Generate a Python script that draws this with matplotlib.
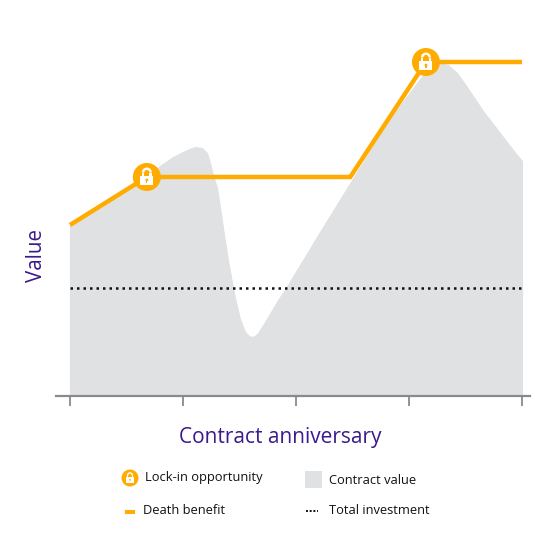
import matplotlib
matplotlib.use("Agg")
import matplotlib.pyplot as plt
from matplotlib.offsetbox import DrawingArea, AnnotationBbox
from matplotlib.patches import Circle, Rectangle, Arc

plt.rcParams['font.family'] = ['Open Sans', 'DejaVu Sans']

# ---- data ----
contract_x = [0.000, 0.177, 0.354, 0.531, 0.681, 0.796, 0.912, 1.035, 1.106,
              1.168, 1.212, 1.239, 1.265, 1.301, 1.327, 1.363, 1.398, 1.434,
              1.460, 1.504, 1.549, 1.584, 1.611, 1.637, 1.664, 1.726, 1.841,
              1.912, 2.212, 2.496, 2.832, 3.097, 3.186, 3.239, 3.274, 3.345,
              3.425, 3.513, 3.655, 3.805, 3.920, 4.000]
contract_y = [171, 183, 196, 208, 219, 230, 239, 246, 249,
              248, 243, 233, 221, 208, 189, 161, 136, 113,
              98, 77, 64, 60, 59, 60, 63, 74, 96,
              108, 164, 216, 277, 317, 328, 332, 333, 331,
              323, 309, 285, 263, 246, 235]
death_x = [0, 0.68, 2.48, 3.15, 4.0]
death_y = [171, 219, 219, 334, 334]
lock_x = [0.68, 3.15]
lock_y = [219, 334]
total_investment = 108
tick_positions = [0, 1, 2, 3, 4]

ORANGE = '#FFAB00'
GRAY = '#E0E1E3'
PURPLE = '#3A1A8C'
AXIS = '#8A8A8A'

fig = plt.figure(figsize=(5.6, 5.6), dpi=100)
ax = fig.add_axes([56/560, 1-396/560, 474/560, 356/560])
ax.set_xlim(-14/113, 4 + 8/113)
ax.set_ylim(0, 356)

ax.fill_between(contract_x, contract_y, 0, color=GRAY, linewidth=0.8,
                edgecolor=GRAY, zorder=1)
ax.plot([0, 4], [total_investment]*2, color='#111111', linewidth=1.8,
        linestyle=(0, (1, 1.6)), zorder=2)
ax.plot(death_x, death_y, color=ORANGE, linewidth=3.2, solid_capstyle='butt',
        solid_joinstyle='miter', zorder=3)

PX = 0.72  # points per pixel


def lock_icon(r_px):
    s = r_px / 14.0
    size = 2 * r_px * PX
    da = DrawingArea(size, size, 0, 0)
    c = size / 2
    da.add_artist(Circle((c, c), r_px * PX, fc=ORANGE, ec='none'))
    bw, bh = 13 * s * PX, 9 * s * PX
    da.add_artist(Rectangle((c - bw/2, c - 8*s*PX), bw, bh, fc='white', ec='none'))
    sr = 3.8 * s * PX
    lw = 2.4 * s * PX
    da.add_artist(Arc((c, c + 4.5*s*PX), 2*sr, 2*sr, theta1=0, theta2=180,
                      color='white', lw=lw))
    da.add_artist(Rectangle((c - sr - 1.2*s*PX, c), 2.4*s*PX, 4.5*s*PX,
                            fc='white', ec='none'))
    da.add_artist(Rectangle((c + sr - 1.2*s*PX, c), 2.4*s*PX, 4.5*s*PX,
                            fc='white', ec='none'))
    da.add_artist(Circle((c, c - 3*s*PX), 1.4*s*PX, fc=ORANGE, ec='none'))
    da.add_artist(Rectangle((c - 0.6*s*PX, c - 6*s*PX), 1.2*s*PX, 3*s*PX,
                            fc=ORANGE, ec='none'))
    return da


for lx, ly in zip(lock_x, lock_y):
    ab = AnnotationBbox(lock_icon(14), (lx, ly), frameon=False, pad=0,
                        box_alignment=(0.5, 0.5), zorder=5)
    ax.add_artist(ab)

for sp in ['top', 'right', 'left']:
    ax.spines[sp].set_visible(False)
ax.spines['bottom'].set_color(AXIS)
ax.spines['bottom'].set_linewidth(1.6)
ax.set_yticks([])
ax.set_xticks(tick_positions)
ax.set_xticklabels([])
ax.tick_params(axis='x', direction='out', length=7.5, width=1.3, color=AXIS)

fig.text(280/560, 1-437/560, 'Contract anniversary', color=PURPLE,
         fontsize=15, ha='center', va='center')
fig.text(37/560, 1-256/560, 'Value', color=PURPLE, fontsize=14.8,
         rotation=90, ha='center', va='center')

# ---- legend ----
lab = fig.add_axes([0, 0, 1, 1])
lab.set_xlim(0, 560)
lab.set_ylim(560, 0)
lab.axis('off')
ab = AnnotationBbox(lock_icon(8.5), (130, 478), frameon=False, pad=0,
                    box_alignment=(0.5, 0.5))
lab.add_artist(ab)
lab.text(145, 478, 'Lock-in opportunity', fontsize=9.3, color='#111111',
         va='center', ha='left')
lab.add_patch(Rectangle((305, 471), 17, 17, fc=GRAY, ec='none'))
lab.text(329, 480, 'Contract value', fontsize=9.3, color='#111111',
         va='center', ha='left')
lab.add_patch(Rectangle((125, 510), 10, 4, fc=ORANGE, ec='none'))
lab.text(143, 510, 'Death benefit', fontsize=9.3, color='#111111',
         va='center', ha='left')
lab.plot([306, 318], [511, 511], color='#111111', linewidth=1.4,
         linestyle=(0, (1, 0.9)))
lab.text(329, 510, 'Total investment', fontsize=9.3, color='#111111',
         va='center', ha='left')

fig.savefig('out.png', dpi=100, facecolor='white')
